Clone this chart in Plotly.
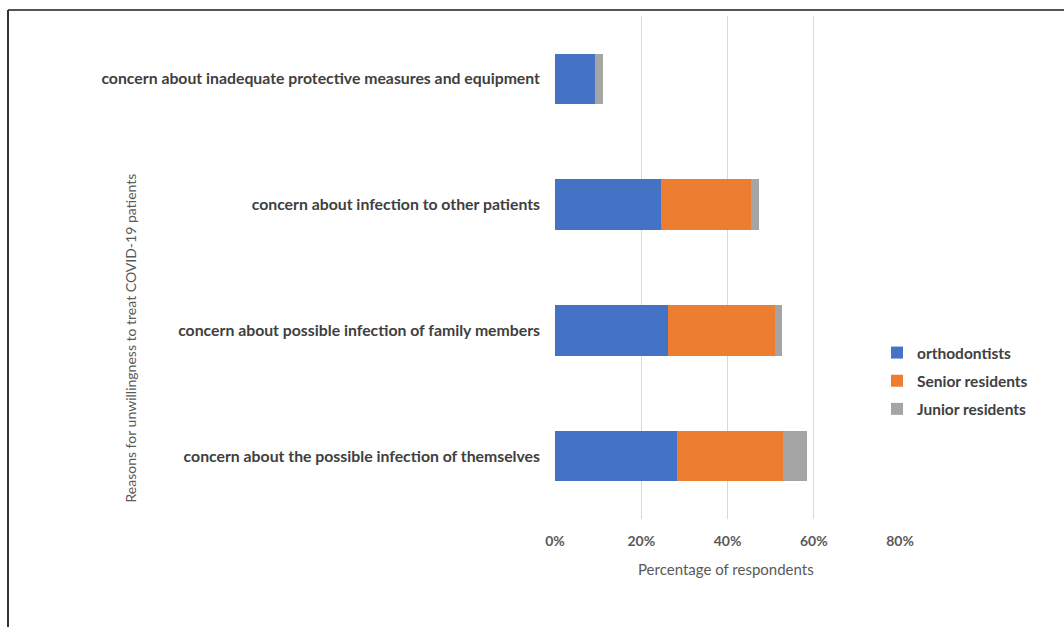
import plotly.graph_objects as go

categories = [
    "concern about inadequate protective measures and equipment",
    "concern about infection to other patients",
    "concern about possible infection of family members",
    "concern about the possible infection of themselves",
]
orthodontists = [0.093, 0.245, 0.263, 0.283]
senior_residents = [0.0, 0.209, 0.247, 0.245]
junior_residents = [0.019, 0.018, 0.017, 0.057]
series_names = ["orthodontists", "Senior residents", "Junior residents"]
colors = ["#4472C4", "#ED7D31", "#A5A5A5"]
tick_vals = [0, 0.2, 0.4, 0.6, 0.8]
tick_text = ["0%", "20%", "40%", "60%", "80%"]

fig = go.Figure()
for name, vals, col in zip(series_names, [orthodontists, senior_residents, junior_residents], colors):
    fig.add_trace(go.Bar(
        y=categories, x=vals, name=name, orientation="h", legendgroup=name,
        marker=dict(color=col, line=dict(width=0)), width=0.4,
    ))

W, H = 1064, 627
L, R, T, B = 555, 164, 16, 108
pw, ph = W - L - R, H - T - B

def px_x(p):
    return (p - L) / pw

def px_y(p):
    return (H - B - p) / ph

font_family = "Lato, 'Open Sans', sans-serif"
fig.update_layout(
    width=W, height=H,
    margin=dict(l=L, r=R, t=T, b=B),
    barmode="stack",
    plot_bgcolor="white", paper_bgcolor="white",
    font=dict(family=font_family, color="#595959"),
    xaxis=dict(range=[0, 0.8], tickvals=tick_vals, ticktext=tick_text,
               showgrid=True, gridcolor="#D9D9D9", gridwidth=1, zeroline=False,
               showline=False, tickfont=dict(size=14, color="#595959", family=font_family, weight="bold"),
               ticklabelstandoff=12),
    yaxis=dict(categoryorder="array", categoryarray=categories, autorange="reversed",
               showgrid=False, zeroline=False, showline=False,
               tickfont=dict(size=15.8, color="#404040", family=font_family, weight="bold"),
               ticklabelstandoff=14),
    legend=dict(x=px_x(877), y=px_y(336), xanchor="left", yanchor="top",
                traceorder="grouped", font=dict(size=15.5, color="#404040", family=font_family, weight="bold"),
                itemwidth=30, tracegroupgap=5, bgcolor="rgba(0,0,0,0)"),
    bargap=0.6,
    annotations=[
        dict(text="Percentage of respondents", xref="paper", yref="paper",
             x=px_x(726), y=px_y(580), showarrow=False,
             font=dict(size=15, color="#595959", family=font_family)),
        dict(text="Reasons for unwillingness to treat COVID-19 patients", xref="paper", yref="paper",
             x=px_x(119), y=px_y(338), showarrow=False, textangle=-90,
             font=dict(size=14, color="#595959", family=font_family)),
    ],
    shapes=[
        dict(type="line", xref="paper", yref="paper", x0=px_x(8), x1=px_x(1064), y0=px_y(10), y1=px_y(10),
             line=dict(color="#555555", width=2)),
        dict(type="line", xref="paper", yref="paper", x0=px_x(8), x1=px_x(8), y0=px_y(10), y1=px_y(627),
             line=dict(color="#333333", width=2)),
    ],
)

fig.write_html("out.html")
